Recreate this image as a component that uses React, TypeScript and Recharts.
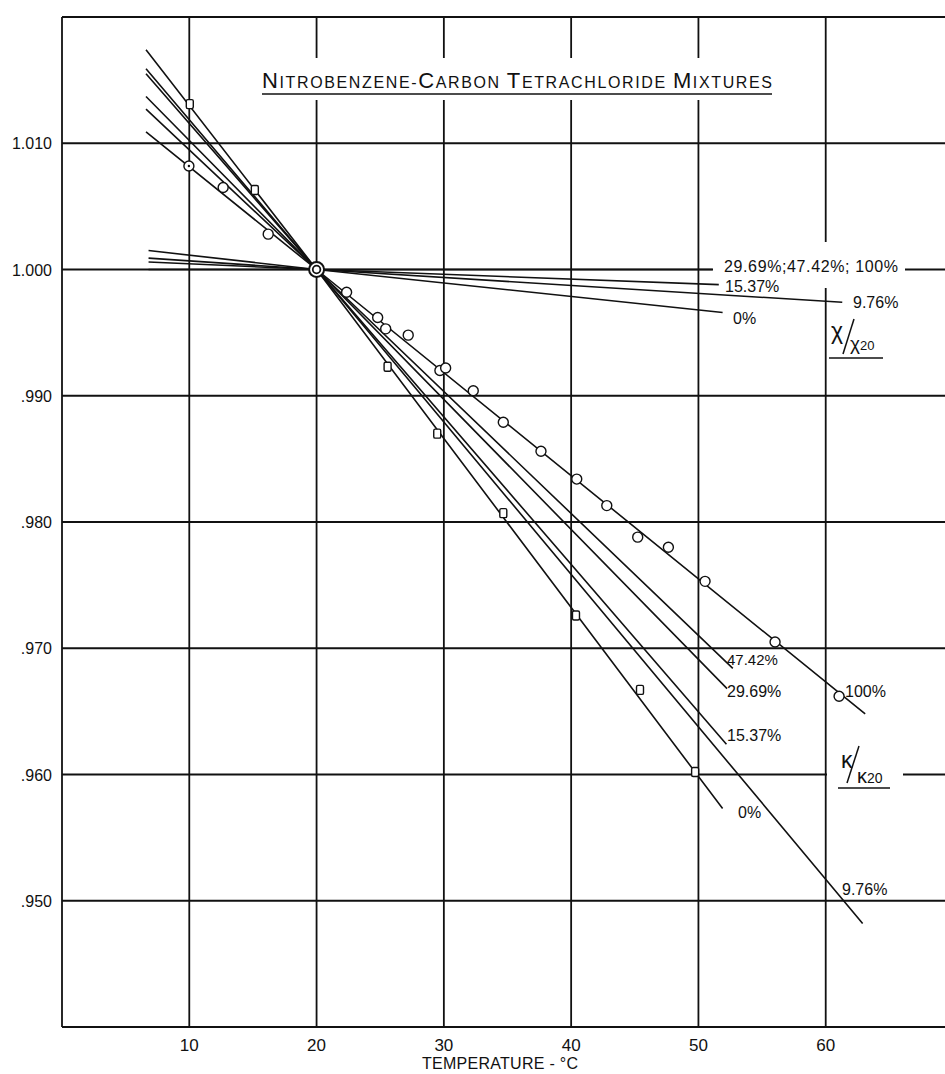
import { ComposedChart, Line, Scatter, XAxis, YAxis, CartesianGrid } from "recharts";

const X_TICKS = [0, 10, 20, 30, 40, 50, 60, 70];
const Y_TICKS = [0.94, 0.95, 0.96, 0.97, 0.98, 0.99, 1.0, 1.01, 1.02];

// kappa / kappa20 lines (steep), read at the drawn ends and the 20 °C point
const K0_X = [6.6, 20, 51.9];
const K0_Y = [1.0174, 1.0, 0.9573];
const K976_X = [6.6, 20, 62.9];
const K976_Y = [1.0159, 1.0, 0.9482];
const K1537_X = [6.6, 20, 52.2];
const K1537_Y = [1.0155, 1.0, 0.9624];
const K2969_X = [6.6, 20, 52.25];
const K2969_Y = [1.0137, 1.0, 0.9668];
const K4742_X = [6.6, 20, 52.7];
const K4742_Y = [1.0127, 1.0, 0.9684];
const K100_X = [6.6, 20, 63.1];
const K100_Y = [1.0109, 1.0, 0.9648];

// chi / chi20 lines (nearly flat)
const C0_X = [6.8, 20, 51.9];
const C0_Y = [1.0015, 1.0, 0.9966];
const C976_X = [6.8, 20, 61.3];
const C976_Y = [1.0009, 1.0, 0.9974];
const C1537_X = [6.8, 20, 51.6];
const C1537_Y = [1.0006, 1.0, 0.9988];
const CMIX_X = [6.8, 51.1];
const CMIX_Y = [1.0, 1.0];

// measured points
const CIRCLE_X = [9.97, 12.66, 16.2, 22.36, 24.8, 25.43, 27.2, 29.69, 30.14, 32.31, 34.67, 37.63, 40.44, 42.8, 45.23, 47.64, 50.52, 56.02, 61.05];
const CIRCLE_Y = [1.0082, 1.0065, 1.0028, 0.9982, 0.9962, 0.9953, 0.9948, 0.992, 0.9922, 0.9904, 0.9879, 0.9856, 0.9834, 0.9813, 0.9788, 0.978, 0.9753, 0.9705, 0.9662];
const SQUARE_X = [10.04, 15.15, 25.58, 29.48, 34.67, 40.38, 45.41, 49.74];
const SQUARE_Y = [1.0131, 1.0063, 0.9923, 0.987, 0.9807, 0.9726, 0.9667, 0.9602];
const REF_X = [20];
const REF_Y = [1.0];

const FONT = "'Liberation Sans', Arial, sans-serif";
const INK = "#111";

const pts = (xs: number[], ys: number[]) => xs.map((x, i) => ({ x, y: ys[i] }));

const LINES = [
  pts(K0_X, K0_Y),
  pts(K976_X, K976_Y),
  pts(K1537_X, K1537_Y),
  pts(K2969_X, K2969_Y),
  pts(K4742_X, K4742_Y),
  pts(K100_X, K100_Y),
  pts(C0_X, C0_Y),
  pts(C976_X, C976_Y),
  pts(C1537_X, C1537_Y),
  pts(CMIX_X, CMIX_Y),
];

function fmtY(v: number) {
  if (v < 0.945 || v > 1.015) return "";
  if (v >= 0.9995) return v.toFixed(3);
  return "." + Math.round(v * 1000);
}

const YTick = (p: any) => (
  <text x={p.x - 10} y={p.y + 6} textAnchor="end" fontFamily={FONT} fontSize={16} fill={INK}>
    {fmtY(p.payload.value)}
  </text>
);

const XTick = (p: any) => {
  const v = p.payload.value;
  if (v === 0 || v === 70) return <g />;
  return (
    <text x={p.x} y={p.y + 24} textAnchor="middle" fontFamily={FONT} fontSize={17} fill={INK}>
      {v}
    </text>
  );
};

const CircleMark = (p: any) => (
  <g>
    <circle cx={p.cx} cy={p.cy} r={5} fill="#fff" stroke={INK} strokeWidth={1.4} />
    {p.index === 0 && <circle cx={p.cx} cy={p.cy} r={1.2} fill={INK} />}
  </g>
);

const SquareMark = (p: any) => (
  <rect x={p.cx - 3.5} y={p.cy - 4.5} width={7} height={9} rx={1.5} fill="#fff" stroke={INK} strokeWidth={1.4} />
);

const RefMark = (p: any) => (
  <g>
    <circle cx={p.cx} cy={p.cy} r={7.5} fill="#fff" stroke={INK} strokeWidth={2} />
    <circle cx={p.cx} cy={p.cy} r={3.8} fill="#fff" stroke={INK} strokeWidth={1.8} />
  </g>
);

function Labels() {
  const t = { fontFamily: FONT, fill: INK } as const;
  return (
    <svg width={945} height={1074} style={{ position: "absolute", left: 0, top: 0, pointerEvents: "none" }}>
      {/* title */}
      <rect x={256} y={58} width={522} height={42} fill="#fff" />
      <text x={262} y={88} textLength={510} lengthAdjust="spacing" {...t}>
        <tspan fontSize={22}>N</tspan>
        <tspan fontSize={16}>ITROBENZENE-</tspan>
        <tspan fontSize={22}>C</tspan>
        <tspan fontSize={16}>ARBON </tspan>
        <tspan fontSize={22}>T</tspan>
        <tspan fontSize={16}>ETRACHLORIDE </tspan>
        <tspan fontSize={22}>M</tspan>
        <tspan fontSize={16}>IXTURES</tspan>
      </text>
      <line x1={262} x2={772} y1={94} y2={94} stroke={INK} strokeWidth={1.5} />

      {/* chi labels */}
      <rect x={713} y={257} width={192} height={20} fill="#fff" />
      <rect x={819} y={242} width={11} height={46} fill="#fff" />
      <text x={724} y={272} fontSize={16} textLength={174} lengthAdjust="spacing" {...t}>29.69%;47.42%; 100%</text>
      <text x={725} y={292} fontSize={16} {...t}>15.37%</text>
      <text x={853} y={308} fontSize={16} {...t}>9.76%</text>
      <text x={733} y={324} fontSize={16} {...t}>0%</text>
      <text x={831} y={339} fontSize={23} {...t}>χ</text>
      <line x1={854} y1={319} x2={843} y2={354} stroke={INK} strokeWidth={1.5} />
      <text x={850} y={350} fontSize={19} {...t}>
        χ<tspan fontSize={13}>20</tspan>
      </text>
      <line x1={829} x2={883} y1={358} y2={358} stroke={INK} strokeWidth={1.5} />

      {/* kappa labels */}
      <text x={727} y={665} fontSize={15} {...t}>47.42%</text>
      <text x={727} y={697} fontSize={16} {...t}>29.69%</text>
      <text x={845} y={697} fontSize={16} {...t}>100%</text>
      <text x={727} y={741} fontSize={16} {...t}>15.37%</text>
      <text x={738} y={818} fontSize={16} {...t}>0%</text>
      <text x={842} y={895} fontSize={16} {...t}>9.76%</text>
      <rect x={827} y={766} width={76} height={16} fill="#fff" />
      <text x={841} y={768} fontSize={23} {...t}>κ</text>
      <line x1={859} y1={746} x2={847} y2={783} stroke={INK} strokeWidth={1.5} />
      <text x={857} y={783} fontSize={20} {...t}>
        κ<tspan fontSize={14}>20</tspan>
      </text>
      <line x1={838} x2={890} y1={788} y2={788} stroke={INK} strokeWidth={1.5} />

      {/* x axis title */}
      <text x={422} y={1069} fontSize={16} textLength={156} lengthAdjust="spacing" {...t}>TEMPERATURE - °C</text>
    </svg>
  );
}

export default function App() {
  return (
    <div style={{ position: "absolute", left: 0, top: 0, width: 945, height: 1074, overflow: "hidden", background: "#fff" }}>
      <ComposedChart width={953} height={1074} margin={{ top: 17, right: 0, bottom: 0, left: 0 }}>
        <CartesianGrid stroke={INK} strokeWidth={1.8} />
        <XAxis
          type="number"
          dataKey="x"
          domain={[0, 70]}
          ticks={X_TICKS}
          interval={0}
          allowDataOverflow
          height={47}
          axisLine={false}
          tickLine={false}
          tickSize={0}
          tickMargin={0}
          tick={<XTick />}
        />
        <YAxis
          type="number"
          dataKey="y"
          domain={[0.94, 1.02]}
          ticks={Y_TICKS}
          interval={0}
          allowDataOverflow
          width={62}
          axisLine={false}
          tickLine={false}
          tickSize={0}
          tickMargin={0}
          tick={<YTick />}
        />
        {LINES.map((d, i) => (
          <Line
            key={i}
            data={d}
            dataKey="y"
            type="linear"
            stroke={INK}
            strokeWidth={1.6}
            dot={false}
            activeDot={false}
            isAnimationActive={false}
          />
        ))}
        <Scatter data={pts(CIRCLE_X, CIRCLE_Y)} dataKey="y" shape={<CircleMark />} isAnimationActive={false} />
        <Scatter data={pts(SQUARE_X, SQUARE_Y)} dataKey="y" shape={<SquareMark />} isAnimationActive={false} />
        <Scatter data={pts(REF_X, REF_Y)} dataKey="y" shape={<RefMark />} isAnimationActive={false} />
      </ComposedChart>
      <Labels />
    </div>
  );
}
